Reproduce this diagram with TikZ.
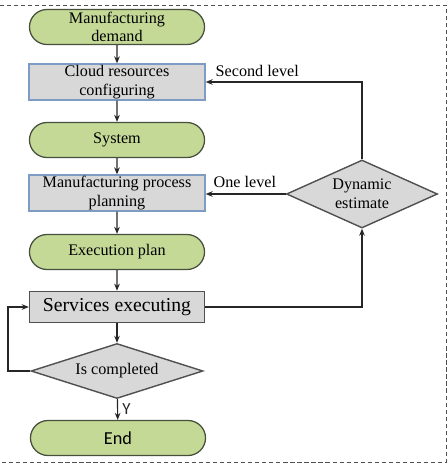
\documentclass[tikz,border=0pt]{standalone}
\usepackage{fontspec}
\setmainfont{Liberation Serif}
\newfontfamily\calfont{Carlito}
\usetikzlibrary{shapes.misc,shapes.geometric,arrows.meta}
\definecolor{termgreen}{RGB}{197,217,151}
\definecolor{termline}{RGB}{70,80,60}
\definecolor{boxgray}{RGB}{216,216,216}
\definecolor{boxline}{RGB}{125,155,195}
\definecolor{darkline}{RGB}{80,80,80}
\begin{document}
\begin{tikzpicture}[x=0.025cm,y=-0.025cm]
        \tikzset{
            term/.style={rounded rectangle, minimum width=4.375cm, minimum height=0.875cm,
            inner sep=0pt, fill=termgreen, draw=termline, line width=0.9pt, align=center,
            font=\fontsize{11.5}{12.5}\selectfont},
            proc/.style={rectangle, minimum width=4.4cm, minimum height=0.9cm,
            inner sep=0pt, fill=boxgray, draw=boxline, line width=0.9pt, align=center,
            font=\fontsize{11.5}{13.5}\selectfont},
            exec/.style={rectangle, minimum width=4.375cm, minimum height=0.78cm,
            inner sep=0pt, fill=boxgray, draw=darkline, line width=1pt,
            font=\fontsize{14}{16}\selectfont},
            test/.style={diamond, inner sep=0pt, aspect=3, fill=boxgray, draw=darkline,
            line width=1pt, align=center, font=\fontsize{11.5}{13.5}\selectfont},
            c1/.style={-{Stealth[length=5pt,width=4pt]}, line width=0.8pt, black!85},
            lbl/.style={font=\fontsize{11.5}{13}\selectfont, inner sep=1pt}
            }

            \useasboundingbox (0,0) rectangle (447,467);
            \draw[darkline, dashed, dash pattern=on 3pt off 2pt, line width=0.6pt] (-5,5) rectangle (446,462);

            \node[term] (n1) at (117,27) {Manufacturing\\demand};
            \node[proc] (n2) at (117,82) {Cloud resources\\configuring};
            \node[term] (n3) at (117,140) {System};
            \node[proc] (n4) at (117,193) {Manufacturing process\\planning};
            \node[term] (n5) at (117,252) {Execution plan};
            \node[exec] (n6) at (117,307) {Services executing};
            \node[test, minimum width=4.3cm, minimum height=1.375cm] (n7) at (117,371) {Is completed};
            \node[term, font=\calfont\fontsize{13}{14}\selectfont] (n8) at (118,438) {End};
            \node[test, aspect=2.2, minimum width=3.775cm, minimum height=1.7cm] (n9) at (362,194) {Dynamic\\estimate};

            \coordinate (k1) at (n9.north |- n2.east);
            \coordinate (k2) at (n9.south |- n6.east);
            \coordinate (k3) at (8,371);
            \coordinate (k4) at (8,307);

            \draw[c1] (n1) -- (n2);
            \draw[c1] (n2) -- (n3);
            \draw[c1] (n3) -- (n4);
            \draw[c1] (n4) -- (n5);
            \draw[c1] (n5) -- (n6);
            \draw[c1] (n6) -- (n7);
            \draw[c1] (n7) -- node[right, font=\calfont\fontsize{12}{13}\selectfont, inner sep=3pt] {Y} (n8);
            \draw[c1] (n9.north) -- (k1) -- (n2.east);
            \draw[c1] (n9.west) -- (n4.east |- n9.west);
            \draw[c1] (n6.east) -- (k2) -- (n9.south);
            \draw[c1] (n7.west) -- (k3) -- (k4) -- (n6.west);

            \node[lbl, anchor=south west] (t1) at (214,78) {Second level};
            \node[lbl, anchor=south west] (t2) at (212,189) {One level};
        \end{tikzpicture}
\end{document}
